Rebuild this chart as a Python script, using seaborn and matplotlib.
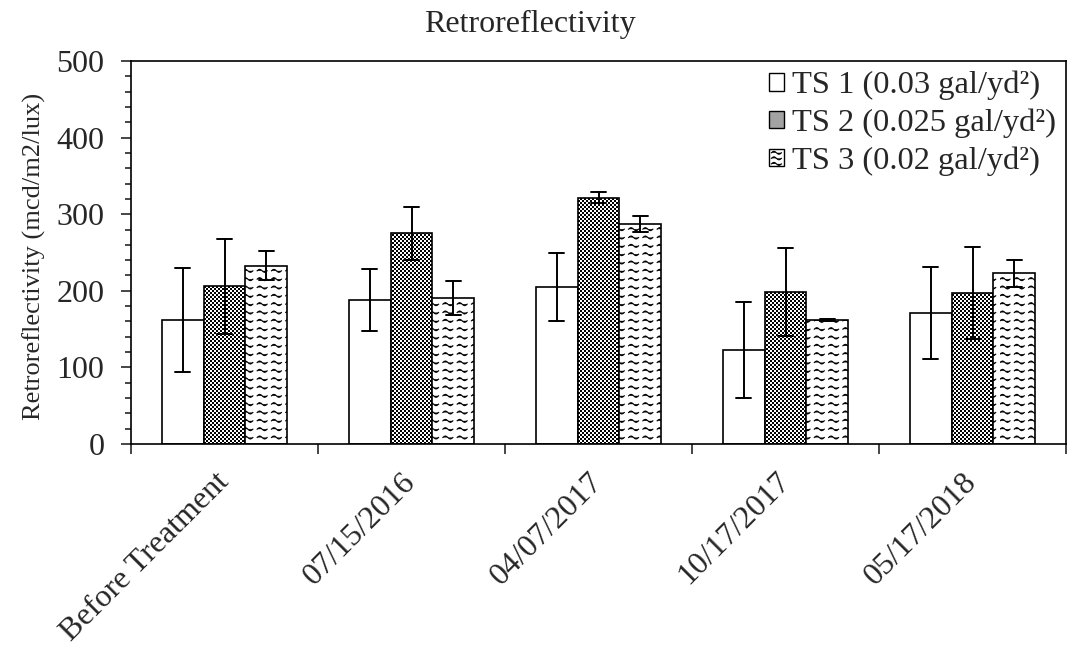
import warnings
warnings.filterwarnings("ignore")
import numpy as np
import pandas as pd
import matplotlib
matplotlib.use("Agg")
import matplotlib.pyplot as plt
import matplotlib.hatch as mhatch
from matplotlib.path import Path
from matplotlib.patches import Patch
import seaborn as sns

# ---------------- data ----------------
categories = ["Before Treatment", "07/15/2016", "04/07/2017", "10/17/2017", "05/17/2018"]
series = ["TS 1 (0.03 gal/yd²)", "TS 2 (0.025 gal/yd²)", "TS 3 (0.02 gal/yd²)"]
ts1_mean = [161.5, 188, 205, 122.7, 171.3]
ts1_err = [68, 41, 45, 63, 60]
ts2_mean = [206, 275, 321.6, 198, 197]
ts2_err = [62, 35, 7.5, 57.5, 60.5]
ts3_mean = [233, 190.6, 287, 162, 223]
ts3_err = [19, 22, 10, 1, 17.5]
y_ticks = [0, 100, 200, 300, 400, 500]


# ---------------- custom hatches ----------------
class WaveHatch(mhatch.HatchPatternBase):
    """'~' : rows of short wavy dashes."""
    def __init__(self, hatch, density):
        self.num_rows = int(hatch.count('~') * density)
        self.n_waves = 7
        self.pts = 9
        self.num_vertices = self.num_rows * self.n_waves * self.pts

    def set_vertices_and_codes(self, vertices, codes):
        period = 1.0 / self.n_waves
        seg = 0.7 * period
        amp = 0.015
        t = np.linspace(0, 1, self.pts)
        i = 0
        for r in range(self.num_rows):
            y0 = (r + 0.5) / self.num_rows
            for k in range(self.n_waves):
                vertices[i:i + self.pts, 0] = k * period + t * seg
                vertices[i:i + self.pts, 1] = y0 + amp * np.sin(2 * np.pi * t)
                codes[i] = Path.MOVETO
                codes[i + 1:i + self.pts] = Path.LINETO
                i += self.pts


class CheckerHatch(mhatch.HatchPatternBase):
    """':' : fine checkerboard of small filled squares."""
    def __init__(self, hatch, density):
        self.on = hatch.count(':') > 0
        self.n = 50
        self.side = 0.45 / self.n
        self.num_vertices = (self.n * self.n // 2) * 5 if self.on else 0

    def set_vertices_and_codes(self, vertices, codes):
        c = 1.0 / self.n
        s = self.side
        i = 0
        for r in range(self.n):
            for q in range(self.n):
                if (r + q) % 2:
                    continue
                x0 = q * c + (c - s) / 2
                y0 = r * c + (c - s) / 2
                vertices[i:i + 5] = [[x0, y0], [x0 + s, y0], [x0 + s, y0 + s], [x0, y0 + s], [x0, y0]]
                codes[i] = Path.MOVETO
                codes[i + 1:i + 4] = Path.LINETO
                codes[i + 4] = Path.CLOSEPOLY
                i += 5


mhatch._hatch_types.append(WaveHatch)
mhatch._hatch_types.append(CheckerHatch)

# ---------------- build table ----------------
rows = []
for name, means, errs in zip(series, [ts1_mean, ts2_mean, ts3_mean], [ts1_err, ts2_err, ts3_err]):
    for cat, m, e in zip(categories, means, errs):
        rows.append({"cat": cat, "series": name, "val": m - e})
        rows.append({"cat": cat, "series": name, "val": m + e})
df = pd.DataFrame(rows)

sns.set_style("white")
plt.rcParams["font.family"] = ["Liberation Serif", "DejaVu Serif"]
plt.rcParams["hatch.linewidth"] = 0.8
plt.rcParams["hatch.color"] = "black"

fig = plt.figure(figsize=(10.67, 6.6), dpi=100)
ax = fig.add_axes([131 / 1067, 1 - 444 / 660, 935 / 1067, 383 / 660])

sns.barplot(data=df, x="cat", y="val", hue="series", order=categories, hue_order=series,
            estimator="mean", errorbar=lambda v: (v.min(), v.max()),
            palette=["white", "white", "white"], edgecolor="black", linewidth=1.2,
            width=0.67, capsize=0.24,
            err_kws={"color": "black", "linewidth": 1.4}, ax=ax, legend=False)

hatches = [None, ":", "~~"]
for cont, h in zip(ax.containers, hatches):
    for p in cont.patches:
        p.set_hatch(h)
        p.set_edgecolor("black")

# axes styling
ax.set_ylim(0, 500)
ax.set_xlim(-0.5, 4.5)
ax.set_yticks(y_ticks)
ax.set_yticklabels([str(v) for v in y_ticks], fontsize=23)
ax.set_yticks(np.arange(0, 501, 20), minor=True)
ax.set_xticks(np.arange(-0.5, 5, 1))
ax.set_xticklabels([""] * 6)
ax.set_xticks(np.arange(len(categories)), minor=True)
ax.set_xticklabels(categories, minor=True, fontsize=23, rotation=45,
                   ha="right", va="center", rotation_mode="anchor")
ax.tick_params(axis="x", which="major", direction="out", length=7, width=1.2, bottom=True)
ax.tick_params(axis="x", which="minor", length=0, pad=24)
ax.tick_params(axis="y", which="major", direction="out", length=7, width=1.2, left=True, pad=12)
ax.tick_params(axis="y", which="minor", direction="out", length=4.5, width=1.2, left=True)
for s in ax.spines.values():
    s.set_visible(True)
    s.set_linewidth(1.2)
    s.set_color("black")

ax.set_xlabel("")
ax.set_ylabel("Retroreflectivity (mcd/m2/lux)", fontsize=19)
ax.yaxis.set_label_coords(-0.091, 0.49)

fig.text(0.497, 1 - 32 / 660, "Retroreflectivity", ha="center", va="baseline", fontsize=23)

leg_handles = [Patch(facecolor="white", edgecolor="black", linewidth=1.0),
               Patch(facecolor="#a3a3a3", edgecolor="black", linewidth=1.0),
               Patch(facecolor="white", edgecolor="black", linewidth=1.0, hatch="~~~")]
ax.legend(leg_handles, series, loc="upper right", frameon=False, fontsize=23.4,
          handlelength=0.46, handleheight=0.46, handletextpad=0.25,
          labelspacing=0.26, borderaxespad=0.2, borderpad=0.1)

fig.savefig("out.png", dpi=100)
